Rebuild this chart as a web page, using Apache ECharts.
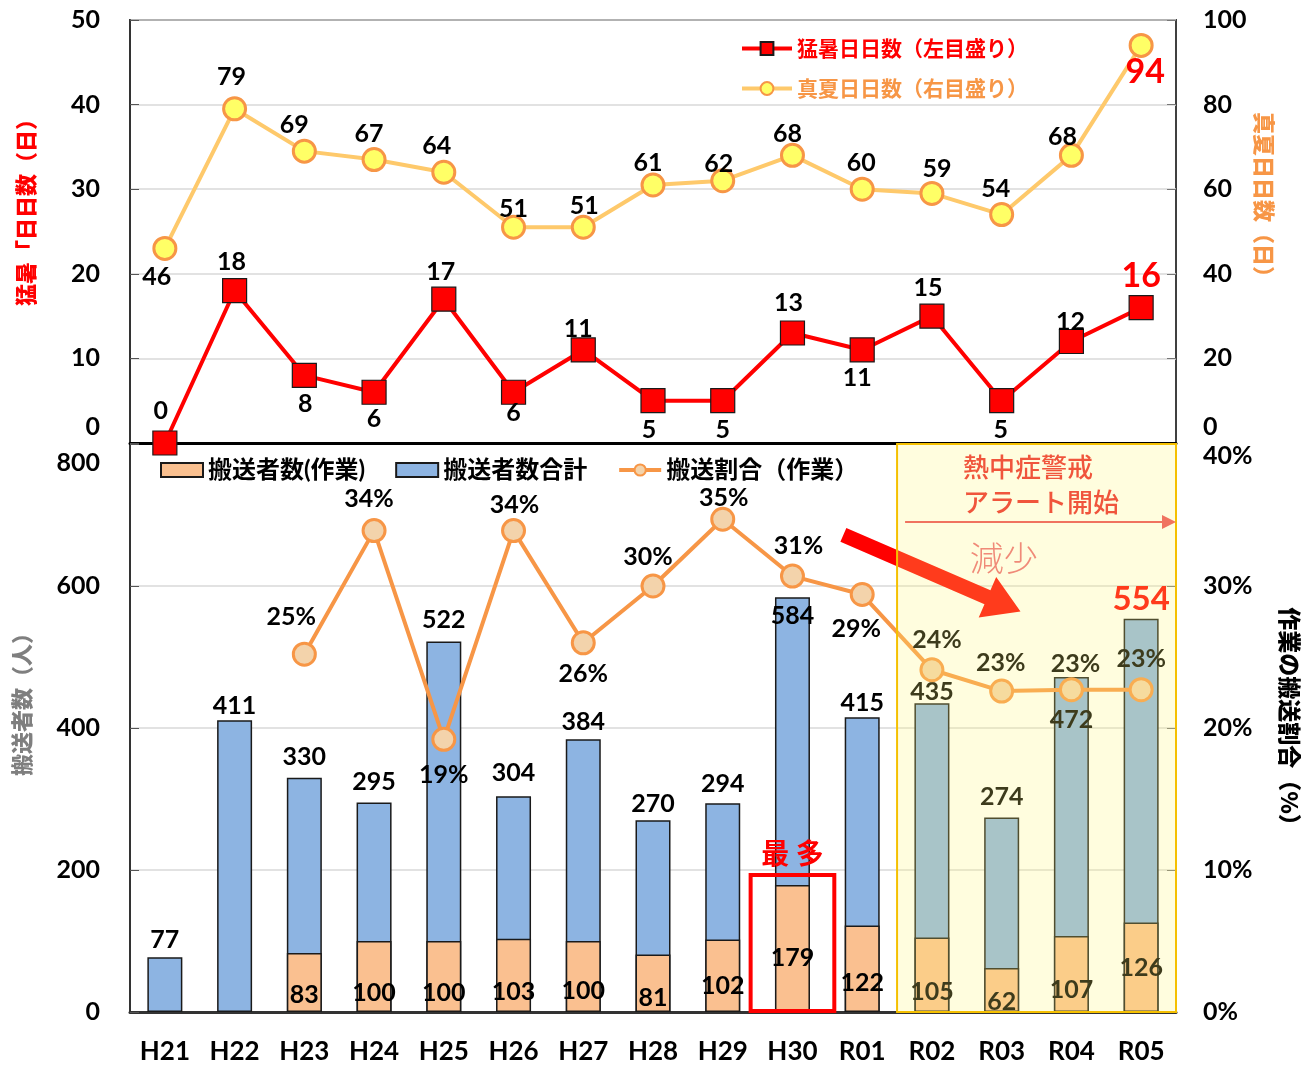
<!DOCTYPE html>
<html>
<head>
<meta charset="utf-8">
<script src="https://cdn.jsdelivr.net/npm/echarts@6.0.0/dist/echarts.min.js"></script>
<style>
html,body{margin:0;padding:0;background:#fff;}
#chart{width:1304px;height:1066px;}
</style>
</head>
<body>
<div id="chart"></div>
<script>
// ---- data ----
const years = ['H21','H22','H23','H24','H25','H26','H27','H28','H29','H30','R01','R02','R03','R04','R05'];
const extremeHeatDays = [0,18,8,6,17,6,11,5,5,13,11,15,5,12,16];
const midsummerDays = [46,79,69,67,64,51,51,61,62,68,60,59,54,68,94];
const totalTransported = [77,411,330,295,522,304,384,270,294,584,415,435,274,472,554];
const workTransported = [null,null,83,100,100,103,100,81,102,179,122,105,62,107,126];
const workRatio = [null,null,25.2,33.9,19.2,33.9,26.0,30.0,34.7,30.7,29.4,24.1,22.6,22.7,22.7];

const seriesNames = {
  heat: '猛暑日日数（左目盛り）',
  summer: '真夏日日数（右目盛り）',
  work: '搬送者数(作業)',
  total: '搬送者数合計',
  ratio: '搬送割合（作業）'
};

// ---- label placement (style only) ----
const heatLabelOffset = [[-4,-32],[-3,-29],[1,29],[0,27],[-3,-27],[0,21],[-5,-21],[-4,29],[0,29],[-4,-30],[-5,28],[-4,-28],[-1,29],[-1,-20],[0,-32]];
const summerLabelOffset = [[-8,29],[-3,-32],[-10,-26],[-5,-26],[-7,-26],[0,-18],[1,-21],[-5,-22],[-4,-17],[-5,-21],[-1,-26],[5,-24],[-6,-26],[-9,-18],[4,27]];
const ratioLabelOffset = [null,null,[-13,-37],[-5,-32],[0,36],[1,-26],[0,31],[-5,-29],[1,-21],[6,-30],[-6,34],[5,-30],[-1,-28],[4,-26],[0,-31]];
const totalLabelOffset = [0,3,-3,-3,-4,-6,0,1,-2,36,3,6,-3,61,2];
const workLabelOffset = [0,0,0,-2,-2,-3,-4,3,-9,-37,-12,-3,7,-5,-27];

const FONT = 'Lato, "Noto Sans CJK JP", sans-serif';
const CJK = '"Noto Sans CJK JP", sans-serif';

const lblBase = {show:true, color:'#000', fontSize:25, fontWeight:'bold', fontFamily:FONT};

const option = {
  animation: false,
  backgroundColor: '#fff',
  textStyle: {fontFamily: FONT},
  grid: [
    {left:130, right:128, top:20, height:423, show:true, borderColor:'#404040', borderWidth:2, backgroundColor:'transparent'},
    {left:130, right:128, top:444, bottom:54}
  ],
  legend: [
    {
      orient:'vertical', left:735, top:33, itemGap:19, itemWidth:50, itemHeight:16,
      selectedMode:false,
      lineStyle:{width:4},
      textStyle:{fontSize:21, fontWeight:'bold', fontFamily:CJK},
      data:[
        {name:seriesNames.heat, textStyle:{color:'#ff0000'}},
        {name:seriesNames.summer, textStyle:{color:'#f79646'}}
      ]
    },
    {
      left:155, top:453, itemGap:30, itemWidth:42, itemHeight:14,
      selectedMode:false,
      lineStyle:{width:4},
      textStyle:{fontSize:24, fontWeight:'bold', color:'#000', fontFamily:FONT},
      data:[
        {name:seriesNames.work, icon:'rect'},
        {name:seriesNames.total, icon:'rect'},
        {name:seriesNames.ratio}
      ]
    }
  ],
  xAxis: [
    {type:'category', gridIndex:0, data:years,
     axisLabel:{show:false}, axisTick:{show:false},
     axisLine:{lineStyle:{color:'#000', width:3}}},
    {type:'category', gridIndex:1, data:years,
     axisLabel:{color:'#000', fontSize:26, fontWeight:'bold', margin:27, fontFamily:FONT},
     axisTick:{show:false},
     axisLine:{lineStyle:{color:'#333', width:3}}}
  ],
  yAxis: [
    {type:'value', gridIndex:0, position:'left', min:0, max:50, interval:10,
     axisLine:{show:true, lineStyle:{color:'#333', width:2}},
     axisTick:{show:true, inside:true, length:9, lineStyle:{color:'#555'}},
     splitLine:{lineStyle:{color:'#d9d9d9', width:1.5}},
     axisLabel:{margin:30, color:'#000', fontSize:25, fontWeight:'bold', fontFamily:FONT,
       formatter: v => v === 0 ? '{up|0}' : String(v),
       rich:{up:{padding:[0,0,32,0], fontSize:25, fontWeight:'bold', color:'#000', fontFamily:FONT}}}},
    {type:'value', gridIndex:0, position:'right', min:0, max:100, interval:20,
     axisLine:{show:false},
     axisTick:{show:true, inside:true, length:9, lineStyle:{color:'#777'}},
     splitLine:{show:false},
     axisLabel:{margin:27, color:'#000', fontSize:25, fontWeight:'bold', fontFamily:FONT,
       formatter: v => v === 0 ? '{up|0}' : String(v),
       rich:{up:{padding:[0,0,32,0], fontSize:25, fontWeight:'bold', color:'#000', fontFamily:FONT}}}},
    {type:'value', gridIndex:1, position:'left', min:0, max:800, interval:200,
     axisLine:{show:true, lineStyle:{color:'#333', width:2}},
     axisTick:{show:true, inside:true, length:9, lineStyle:{color:'#555'}},
     splitLine:{lineStyle:{color:'#d9d9d9', width:1.5}},
     axisLabel:{margin:30, color:'#000', fontSize:25, fontWeight:'bold', fontFamily:FONT,
       formatter: v => v === 800 ? '{dn|800}' : String(v),
       rich:{dn:{padding:[38,0,0,0], fontSize:25, fontWeight:'bold', color:'#000', fontFamily:FONT}}}},
    {type:'value', gridIndex:1, position:'right', min:0, max:40, interval:10,
     axisLine:{show:false},
     axisTick:{show:true, inside:true, length:9, lineStyle:{color:'#777'}},
     splitLine:{show:false},
     axisLabel:{margin:27, color:'#000', fontSize:25, fontWeight:'bold', fontFamily:FONT,
       formatter: v => v === 40 ? '{dn|40%}' : v + '%',
       rich:{dn:{padding:[24,0,0,0], fontSize:25, fontWeight:'bold', color:'#000', fontFamily:FONT}}}}
  ],
  series: [
    {
      name: seriesNames.total, type:'bar', xAxisIndex:1, yAxisIndex:2,
      barWidth:35, barGap:'-100%',
      itemStyle:{color:'#8db4e2', borderColor:'#1a1a1a', borderWidth:1.5},
      label:Object.assign({}, lblBase, {position:'top', distance:5}),
      emphasis:{disabled:true},
      data: totalTransported.map((v,i) => ({
        value:v,
        label: i === 14
          ? {offset:[0,totalLabelOffset[i]], color:'#ff0000', fontSize:33}
          : {offset:[0,totalLabelOffset[i]]}
      }))
    },
    {
      name: seriesNames.work, type:'bar', xAxisIndex:1, yAxisIndex:2,
      barWidth:35, barGap:'-100%',
      itemStyle:{color:'#fac090', borderColor:'#1a1a1a', borderWidth:1.5},
      label:Object.assign({}, lblBase, {position:'insideBottom', distance:5}),
      emphasis:{disabled:true},
      data: workTransported.map((v,i) => ({value:v, label:{offset:[0,workLabelOffset[i]]}}))
    },
    {
      name: seriesNames.ratio, type:'line', xAxisIndex:1, yAxisIndex:3,
      symbol:'circle', symbolSize:22, showAllSymbol:true,
      lineStyle:{color:'#f79646', width:4},
      itemStyle:{color:'#f3d3ab', borderColor:'#f79646', borderWidth:3},
      label:Object.assign({}, lblBase, {position:'inside', formatter: p => Math.round(p.value) + '%'}),
      emphasis:{disabled:true},
      z:4,
      data: workRatio.map((v,i) => ({value:v, label:{offset: ratioLabelOffset[i] || [0,0]}}))
    },
    {
      name: seriesNames.summer, type:'line', xAxisIndex:0, yAxisIndex:1,
      symbol:'circle', symbolSize:22, showAllSymbol:true,
      lineStyle:{color:'#fec96b', width:4},
      itemStyle:{color:'#ffff66', borderColor:'#f79646', borderWidth:3},
      label:Object.assign({}, lblBase, {position:'inside'}),
      emphasis:{disabled:true},
      z:4,
      data: midsummerDays.map((v,i) => ({
        value:v,
        label: i === 14
          ? {offset:summerLabelOffset[i], color:'#ff0000', fontSize:34}
          : {offset:summerLabelOffset[i]}
      }))
    },
    {
      name: seriesNames.heat, type:'line', xAxisIndex:0, yAxisIndex:0,
      symbol:'rect', symbolSize:24, showAllSymbol:true,
      lineStyle:{color:'#ff0000', width:4},
      itemStyle:{color:'#ff0000', borderColor:'#1a1a1a', borderWidth:1.2},
      label:Object.assign({}, lblBase, {position:'inside'}),
      emphasis:{disabled:true},
      z:5,
      data: extremeHeatDays.map((v,i) => ({
        value:v,
        label: i === 14
          ? {offset:heatLabelOffset[i], color:'#ff0000', fontSize:34}
          : {offset:heatLabelOffset[i]}
      }))
    }
  ]
};

const chart = echarts.init(document.getElementById('chart'), null, {renderer:'canvas'});
chart.setOption(option);

// ---- annotations positioned through the chart's own scales ----
const px = i => chart.convertToPixel({xAxisIndex:1}, years[i]);
const cw = px(1) - px(0);
const xAt = f => px(0) + f * cw;
const yL = v => chart.convertToPixel({yAxisIndex:2}, v);
const yR = v => chart.convertToPixel({yAxisIndex:3}, v);

function arrowPoly(x1,y1,x2,y2,shaftW,headL,headW){
  const dx=x2-x1, dy=y2-y1, L=Math.hypot(dx,dy), ux=dx/L, uy=dy/L, nx=-uy, ny=ux;
  const bx=x2-ux*headL, by=y2-uy*headL;
  return [
    [x1+nx*shaftW/2, y1+ny*shaftW/2],
    [bx+nx*shaftW/2, by+ny*shaftW/2],
    [bx+nx*headW/2, by+ny*headW/2],
    [x2, y2],
    [bx-nx*headW/2, by-ny*headW/2],
    [bx-nx*shaftW/2, by-ny*shaftW/2],
    [x1-nx*shaftW/2, y1-ny*shaftW/2]
  ];
}

const boxX0 = px(11) - cw/2, boxX1 = px(14) + cw/2;
const boxY0 = yL(800), boxY1 = yL(0);
const alertY = yR(34.5);

const graphics = [
  // big red arrow (under the highlight box)
  {type:'polygon', z:5, shape:{points: arrowPoly(xAt(9.73), yR(33.6), xAt(12.27), yR(28.2), 15, 36, 44)},
   style:{fill:'#ff0000'}},
  // highlight box
  {type:'rect', z:10, shape:{x:boxX0, y:boxY0, width:boxX1-boxX0, height:boxY1-boxY0},
   style:{fill:'rgba(255,247,115,0.24)', stroke:'#f5c000', lineWidth:2}},
  // alert text
  {type:'text', z:20, x:px(11)+31, y:boxY0+6,
   style:{text:'熱中症警戒\nアラート開始', fill:'#f0553c', font:'500 26px "Noto Sans CJK JP"', lineHeight:35, align:'left', verticalAlign:'top'}},
  // thin arrow line
  {type:'line', z:20, shape:{x1:boxX0+8, y1:alertY, x2:boxX1-12, y2:alertY}, style:{stroke:'#f0735f', lineWidth:2}},
  {type:'polygon', z:20, shape:{points:[[boxX1-14, alertY-7],[boxX1, alertY],[boxX1-14, alertY+7]]}, style:{fill:'#f0735f'}},
  // 減少
  {type:'text', z:20, x:px(12)+2, y:yR(32.0),
   style:{text:'減少', fill:'#f08a78', font:'300 34px "Noto Sans CJK JP"', align:'center', verticalAlign:'middle'}},
  // 最多 frame
  {type:'rect', z:20, shape:{x:px(9)-0.6*cw, y:yL(193), width:1.2*cw, height:yL(0)-yL(193)-1},
   style:{fill:'none', stroke:'#ff0000', lineWidth:4}},
  {type:'text', z:20, x:px(9), y:yL(224),
   style:{text:'最 多', fill:'#ff0000', font:'bold 28px "Noto Sans CJK JP"', align:'center', verticalAlign:'middle'}},
  // axis names
  {type:'text', z:20, x:26, y:207, rotation:Math.PI/2,
   style:{text:'猛暑「日日数（日）', fill:'#ff0000', font:'900 22px "Noto Sans CJK JP"', align:'center', verticalAlign:'middle'}},
  {type:'text', z:20, x:1264, y:200, rotation:-Math.PI/2,
   style:{text:'真夏日日数（日）', fill:'#f79646', font:'900 22px "Noto Sans CJK JP"', align:'center', verticalAlign:'middle'}},
  {type:'text', z:20, x:22, y:699, rotation:Math.PI/2,
   style:{text:'搬送者数（人）', fill:'#7f7f7f', font:'900 22px "Noto Sans CJK JP"', align:'center', verticalAlign:'middle'}},
  {type:'text', z:20, x:1290, y:722, rotation:-Math.PI/2,
   style:{text:'作業の搬送割合（%）', fill:'#000', font:'900 23px "Noto Sans CJK JP"', align:'center', verticalAlign:'middle'}}
];

chart.setOption({graphic: graphics});
</script>
</body>
</html>
